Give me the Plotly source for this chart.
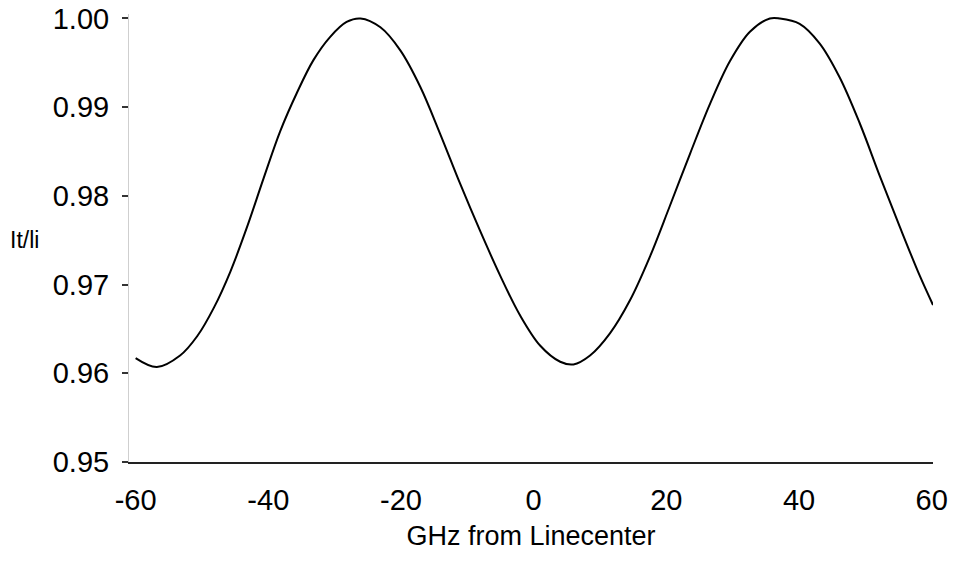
import plotly.graph_objects as go

# Data
ghz = [-60.0, -56.8, -53.3, -50.7, -48.2, -45.7, -43.2, -40.7, -38.2, -35.7, -33.2, -30.7,
       -28.2, -26.1, -23.1, -20.1, -17.1, -14.1, -11.1, -8.1, -5.1, -2.1, 1.0, 4.0, 6.0,
       8.5, 11.5, 14.5, 17.5, 20.5, 23.6, 26.6, 29.6, 32.6, 35.6, 37.1, 40.1, 43.1, 46.1,
       49.2, 52.2, 55.2, 58.2, 60.2]
ratio = [0.9617, 0.9607, 0.9620, 0.9642, 0.9674, 0.9715, 0.9765, 0.9820, 0.9873, 0.9916,
         0.9953, 0.9979, 0.9996, 1.0000, 0.9990, 0.9964, 0.9923, 0.9870, 0.9814, 0.9761,
         0.9711, 0.9666, 0.9631, 0.9613, 0.9610, 0.9620, 0.9645, 0.9682, 0.9731, 0.9788,
         0.9848, 0.9904, 0.9952, 0.9985, 1.0000, 1.0000, 0.9994, 0.9972, 0.9934, 0.9881,
         0.9822, 0.9765, 0.9710, 0.9677]

x_ticks = [-60, -40, -20, 0, 20, 40, 60]
y_ticks = [0.95, 0.96, 0.97, 0.98, 0.99, 1.00]
y_labels = ["0.95", "0.96", "0.97", "0.98", "0.99", "1.00"]

FONT = "Liberation Sans, Arial, sans-serif"

fig = go.Figure()
fig.add_trace(go.Scatter(
    x=ghz, y=ratio, mode="lines",
    line=dict(color="black", width=2, shape="spline", smoothing=1.0),
    showlegend=False, hoverinfo="skip"))

fig.update_layout(
    width=953, height=561,
    margin=dict(l=129, r=20, t=14, b=99),
    paper_bgcolor="white", plot_bgcolor="white",
    font=dict(family=FONT, size=29, color="black"),
    xaxis=dict(
        range=[-61, 60.2], tickvals=x_ticks, ticktext=[str(v) for v in x_ticks],
        showgrid=False, zeroline=False, showline=True, linecolor="#222", linewidth=1.5,
        ticks="", ticklabelstandoff=11, tickfont=dict(size=29), automargin=False,
        title=dict(text="GHz from Linecenter", standoff=12, font=dict(size=27)),
    ),
    yaxis=dict(
        range=[0.95, 1.0005], tickvals=y_ticks, ticktext=y_labels,
        showgrid=False, zeroline=False, showline=True, linecolor="#cfcfcf", linewidth=1,
        ticks="outside", ticklen=6, tickcolor="#333", tickwidth=1.5,
        ticklabelstandoff=7, tickfont=dict(size=29), automargin=False,
    ),
    annotations=[dict(
        text="It/li", xref="paper", yref="y", x=-0.1505, y=0.975,
        xanchor="left", yanchor="middle", showarrow=False,
        font=dict(family=FONT, size=23, color="black"))],
)

fig.write_html("out.html")
